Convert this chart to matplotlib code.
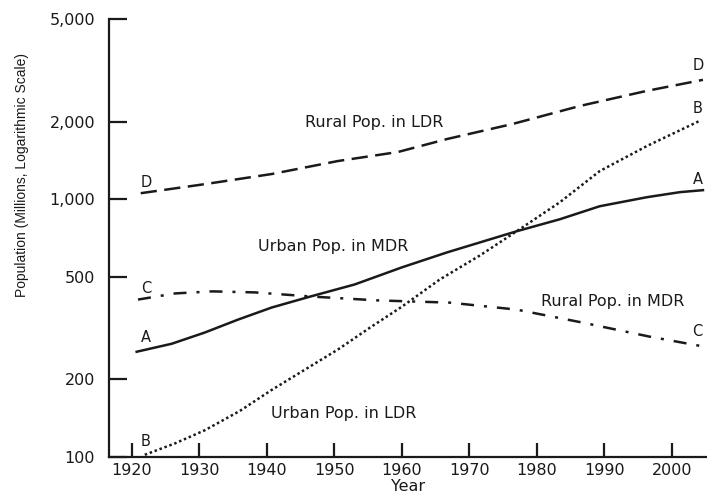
import matplotlib
matplotlib.use("Agg")
import matplotlib.pyplot as plt
from matplotlib.ticker import FixedLocator, FixedFormatter

# ---- data ----
years_D = [1921.3, 1930.8, 1940.7, 1950.5, 1959.4, 1966.7, 1976.4, 1986.4, 1996.3, 2004.6]
rural_ldr = [1055, 1144, 1252, 1406, 1524, 1712, 1958, 2301, 2632, 2904]

years_A = [1920.7, 1925.9, 1930.8, 1935.7, 1940.7, 1946.4, 1953.0, 1960.0, 1966.7,
           1977.0, 1983.4, 1989.3, 1996.3, 2001.2, 2004.6]
urban_mdr = [256, 275, 304, 341, 380, 419, 467, 544, 622, 751, 836, 939, 1018, 1065, 1084]

years_B = [1921.9, 1926.4, 1930.8, 1936.0, 1940.7, 1945.6, 1950.5, 1955.3, 1960.0,
           1965.6, 1971.6, 1977.0, 1983.4, 1989.3, 1996.3, 2004.1]
urban_ldr = [102, 113, 127, 151, 182, 218, 261, 318, 383, 488, 606, 751, 973, 1285, 1608, 2012]

years_C = [1920.9, 1926.4, 1931.9, 1938.2, 1946.7, 1956.4, 1967.1, 1977.0, 1986.8, 1996.7, 2004.1]
rural_mdr = [408, 431, 439, 435, 419, 405, 397, 373, 332, 293, 270]

x_ticks = [1920, 1930, 1940, 1950, 1960, 1970, 1980, 1990, 2000]
y_ticks = [100, 200, 500, 1000, 2000, 5000]
y_tick_labels = ["100", "200", "500", "1,000", "2,000", "5,000"]

series_names = ["Rural Pop. in LDR", "Urban Pop. in MDR", "Rural Pop. in MDR", "Urban Pop. in LDR"]

# ---- figure ----
W, H = 707, 497
fig = plt.figure(figsize=(W / 100, H / 100), dpi=100)
ax = fig.add_axes([109 / W, 40 / H, (707 - 109) / W, (457 - 19) / H])

ink = "#1a1a1a"
lw = 1.8
ax.plot(years_D, rural_ldr, color=ink, lw=lw, linestyle=(0, (6.5, 3)))
ax.plot(years_A, urban_mdr, color=ink, lw=lw, linestyle="-")
ax.plot(years_B, urban_ldr, color=ink, lw=lw, linestyle=(0, (1, 1.1)))
ax.plot(years_C, rural_mdr, color=ink, lw=lw, linestyle=(0, (5.2, 4, 1.2, 4)))

ax.set_yscale("log")
ax.set_ylim(100, 5000)
ax.set_xlim(1916.6, 2005.2)

ax.yaxis.set_major_locator(FixedLocator(y_ticks))
ax.yaxis.set_major_formatter(FixedFormatter(y_tick_labels))
ax.yaxis.set_minor_locator(FixedLocator([]))
ax.set_xticks(x_ticks)
ax.set_xticklabels([str(v) for v in x_ticks])

for s in ["top", "right"]:
    ax.spines[s].set_visible(False)
for s in ["left", "bottom"]:
    ax.spines[s].set_linewidth(1.6)
    ax.spines[s].set_color(ink)

ax.tick_params(axis="y", direction="in", length=13, width=1.6, pad=10,
               labelsize=11.5, colors=ink)
ax.tick_params(axis="x", direction="in", length=10, width=1.6, pad=4,
               labelsize=11.5, colors=ink)
ax.tick_params(which="minor", length=0)

# series names
fs = 11.5
ax.text(1955.9, 1976, series_names[0], ha="center", va="center", fontsize=fs, color=ink)
ax.text(1949.8, 656, series_names[1], ha="center", va="center", fontsize=fs, color=ink)
ax.text(1991.3, 401, series_names[2], ha="center", va="center", fontsize=fs, color=ink)
ax.text(1951.4, 148, series_names[3], ha="center", va="center", fontsize=fs, color=ink)

# letter tags at line ends
lfs = 10.5
def tag(letter, x, y, dx, dy):
    ax.annotate(letter, (x, y), xytext=(dx, dy), textcoords="offset pixels",
                ha="center", va="center", fontsize=lfs, color=ink)

tag("D", years_D[0], rural_ldr[0], 6, 11)
tag("A", years_A[0], urban_mdr[0], 9, 14)
tag("B", years_B[0], urban_ldr[0], 1, 13)
tag("C", years_C[0], rural_mdr[0], 8, 11)
tag("D", years_D[-1], rural_ldr[-1], -5, 14)
tag("A", years_A[-1], urban_mdr[-1], -5, 11)
tag("B", years_B[-1], urban_ldr[-1], -2, 12)
tag("C", years_C[-1], rural_mdr[-1], -2, 14)

fig.text(22 / W, 1 - 175 / H, "Population (Millions, Logarithmic Scale)", rotation=90,
         ha="center", va="center", fontsize=10, family="Liberation Sans", color=ink)
ax.set_xlabel("Year", fontsize=11.5, color=ink, labelpad=1)

fig.savefig("out.png", dpi=100)
